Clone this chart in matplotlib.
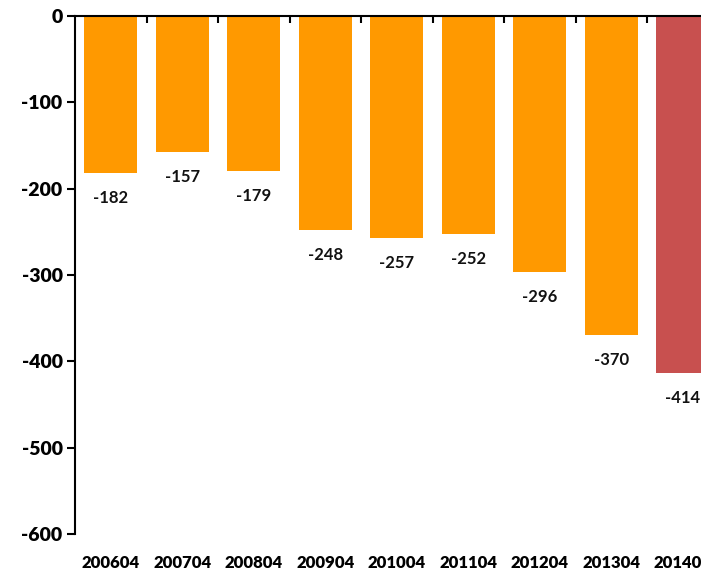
import numpy as np
import matplotlib
matplotlib.use('Agg')
import matplotlib.pyplot as plt

plt.rcParams['font.family'] = ['Lato', 'DejaVu Sans']
plt.rcParams['axes.unicode_minus'] = False

periods = ['200604', '200704', '200804', '200904', '201004',
           '201104', '201204', '201304', '201404']
values = [-182, -157, -179, -248, -257, -252, -296, -370, -414]
colors = ['#FF9900'] * 8 + ['#C8504F']

fig = plt.figure(figsize=(7.01, 5.73), dpi=100)
# axes runs a bit past the right edge, like the original (last bar is clipped)
ax = fig.add_axes([0.107, 0.068, 0.918, 0.904])

x = np.arange(len(values))
ax.bar(x, values, width=0.74, color=colors)

for xi, v in zip(x, values):
    ax.annotate(str(v), xy=(xi, v), xytext=(0, -18), textcoords='offset points',
                ha='center', va='center', fontsize=12, fontweight='bold',
                color='#111111')

ax.set_xlim(-0.5, len(values) - 0.5)
ax.set_ylim(-600, 0)
ax.set_yticks(np.arange(-600, 1, 100))
ax.tick_params(axis='y', direction='out', length=6, width=1.5,
               labelsize=14, pad=3)
for lab in ax.get_yticklabels():
    lab.set_fontweight('heavy')

ax.set_xticks(x, periods)
ax.tick_params(axis='x', which='major', bottom=True, length=0, pad=15,
               labelsize=12)
for lab in ax.get_xticklabels():
    lab.set_fontweight('heavy')
ax.set_xticks(x[:-1] + 0.5, minor=True)
ax.tick_params(axis='x', which='minor', top=True, bottom=False,
               direction='in', length=5, width=1.5)

ax.spines['bottom'].set_visible(False)
ax.spines['right'].set_visible(False)
ax.spines['top'].set_linewidth(1.5)
ax.spines['left'].set_linewidth(1.5)

fig.savefig('out.png', dpi=100)
